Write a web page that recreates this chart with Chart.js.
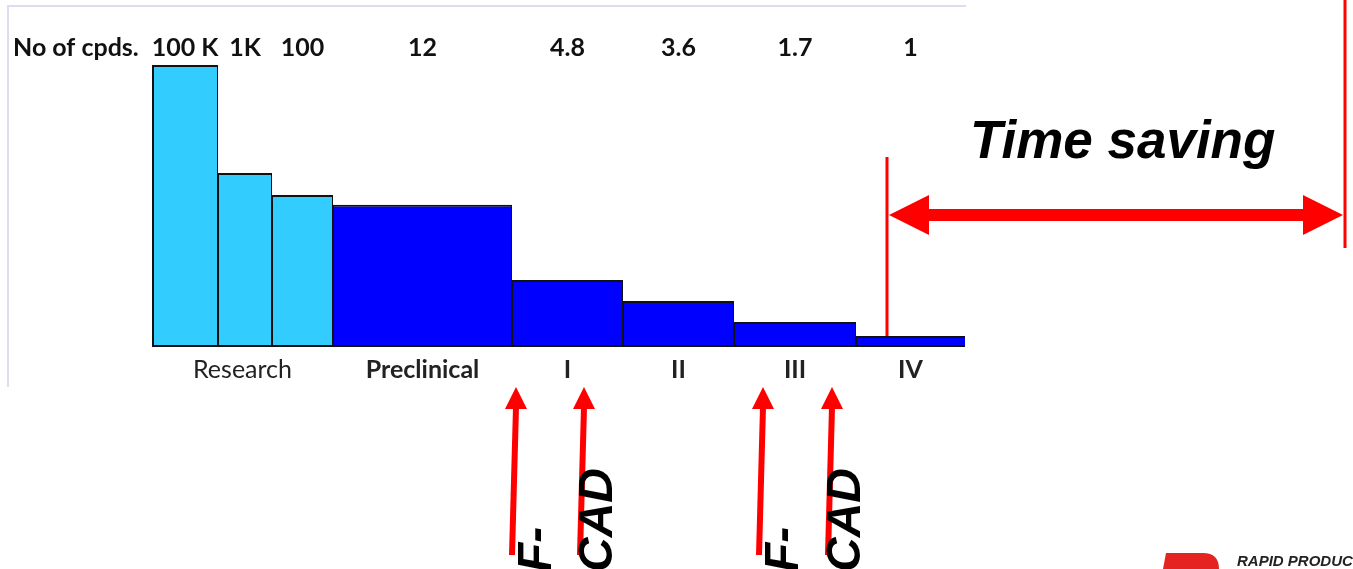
<!DOCTYPE html>
<html>
<head>
<meta charset="utf-8">
<script src="https://cdn.jsdelivr.net/npm/chart.js@4.4.1/dist/chart.umd.min.js"></script>
<style>
  html, body { margin: 0; padding: 0; background: #fff; overflow: hidden; }
  #wrap { width: 1353px; height: 569px; position: relative; }
</style>
</head>
<body>
<div id="wrap"><canvas id="chartFunnel"></canvas></div>
<script>
// ===== DATA =====
const compoundLabels = ['100 K', '1K', '100', '12', '4.8', '3.6', '1.7', '1'];
const stageLabels = ['Research', 'Preclinical', 'I', 'II', 'III', 'IV'];
const stageOfBar = [0, 0, 0, 1, 2, 3, 4, 5];
const phaseWidths = [6.6, 5.4, 6.1, 17.9, 11.1, 11.1, 12.2, 10.9];
const barHeights = [100, 61.7, 53.9, 50.4, 23.8, 16.3, 8.9, 3.9];

// annotation anchors, in x-axis units
const timeSavingFrom = 73.5;
const timeSavingTo = 119.3;
const cadArrows = [36.4, 43.2, 61.1, 68.0];
const cadTexts = ['F-', 'CAD', 'F-', 'CAD'];

// Colors
const RESEARCH_COLOR = '#33CCFF';
const PHASE_COLOR = '#0000FF';
const EDGE_COLOR = '#111111';
const RED = '#FF0000';
const LABEL_FONT = 'Lato, "Open Sans", sans-serif';

// cumulative starts of each bar
const barStarts = [];
phaseWidths.reduce((acc, w, i) => { barStarts[i] = acc; return acc + w; }, 0);
const totalWidth = phaseWidths.reduce((a, b) => a + b, 0);

// resize bars to their own width on the x scale
const variableWidth = {
  id: 'variableWidth',
  afterDatasetsUpdate(chart) {
    const xs = chart.scales.x;
    chart.getDatasetMeta(0).data.forEach((el, i) => {
      const x0 = xs.getPixelForValue(barStarts[i]);
      const x1 = xs.getPixelForValue(barStarts[i] + phaseWidths[i]);
      el.x = (x0 + x1) / 2;
      el.width = x1 - x0;
    });
  }
};

function arrowUp(ctx, tipX, tipY, tailX, tailY) {
  ctx.strokeStyle = RED;
  ctx.lineWidth = 6;
  ctx.beginPath();
  ctx.moveTo(tailX, tailY);
  ctx.lineTo(tipX, tipY + 20);
  ctx.stroke();
  ctx.fillStyle = RED;
  ctx.beginPath();
  ctx.moveTo(tipX, tipY);
  ctx.lineTo(tipX - 11, tipY + 22);
  ctx.lineTo(tipX + 11, tipY + 22);
  ctx.closePath();
  ctx.fill();
}

const decorations = {
  id: 'decorations',
  beforeDraw(chart) {
    const { ctx, chartArea } = chart;
    ctx.save();
    ctx.strokeStyle = '#dadef0';
    ctx.lineWidth = 2;
    ctx.beginPath();
    ctx.moveTo(8, chartArea.bottom + 40);
    ctx.lineTo(8, 6);
    ctx.lineTo(chartArea.right + 1, 6);
    ctx.stroke();
    ctx.restore();
  },
  afterDraw(chart) {
    const { ctx, chartArea } = chart;
    const xs = chart.scales.x;
    const ys = chart.scales.y;
    ctx.save();

    // compound counts above bars
    ctx.fillStyle = '#111';
    ctx.textBaseline = 'alphabetic';
    ctx.font = 'bold 25px ' + LABEL_FONT;
    ctx.textAlign = 'left';
    ctx.fillText('No of cpds.', 13, chartArea.top - 9);
    ctx.textAlign = 'center';
    compoundLabels.forEach((lbl, i) => {
      const cx = xs.getPixelForValue(barStarts[i] + phaseWidths[i] / 2);
      ctx.fillText(lbl, cx, chartArea.top - 9);
    });

    // stage labels under the bars
    stageLabels.forEach((lbl, s) => {
      const idx = stageOfBar.map((v, i) => v === s ? i : -1).filter(i => i >= 0);
      const from = barStarts[idx[0]];
      const to = barStarts[idx[idx.length - 1]] + phaseWidths[idx[idx.length - 1]];
      ctx.font = (s === 0 ? '' : 'bold ') + '25px ' + LABEL_FONT;
      ctx.fillStyle = '#222';
      ctx.fillText(lbl, xs.getPixelForValue((from + to) / 2), chartArea.bottom + 31);
    });

    // time saving span
    const tx0 = xs.getPixelForValue(timeSavingFrom);
    const tx1 = xs.getPixelForValue(timeSavingTo);
    const lastTop = ys.getPixelForValue(barHeights[barHeights.length - 1]);
    ctx.strokeStyle = RED;
    ctx.lineWidth = 3;
    ctx.beginPath();
    ctx.moveTo(tx0, 157);
    ctx.lineTo(tx0, lastTop);
    ctx.moveTo(tx1, 0);
    ctx.lineTo(tx1, 248);
    ctx.stroke();

    const ay = 215;
    const l = tx0 + 2, r = tx1 - 2;
    ctx.fillStyle = RED;
    ctx.beginPath();
    ctx.moveTo(l, ay);
    ctx.lineTo(l + 40, ay - 20);
    ctx.lineTo(l + 40, ay - 6);
    ctx.lineTo(r - 40, ay - 6);
    ctx.lineTo(r - 40, ay - 20);
    ctx.lineTo(r, ay);
    ctx.lineTo(r - 40, ay + 20);
    ctx.lineTo(r - 40, ay + 6);
    ctx.lineTo(l + 40, ay + 6);
    ctx.lineTo(l + 40, ay + 20);
    ctx.closePath();
    ctx.fill();

    ctx.fillStyle = '#000';
    ctx.textAlign = 'left';
    ctx.font = 'italic bold 53px "Liberation Sans", Arial, sans-serif';
    ctx.fillText('Time saving', 970, 158);

    // F-CAD arrows
    cadArrows.forEach((v, i) => {
      const tip = xs.getPixelForValue(v);
      arrowUp(ctx, tip, chartArea.bottom + 40, tip - 4, 555);
      ctx.save();
      ctx.translate(tip + (i % 2 === 0 ? 35 : 28), 572);
      ctx.rotate(-Math.PI / 2);
      ctx.fillStyle = '#000';
      ctx.font = 'italic bold 48px "Liberation Sans", Arial, sans-serif';
      ctx.textAlign = 'left';
      ctx.fillText(cadTexts[i], 0, 0);
      ctx.restore();
    });

    // logo fragment
    ctx.fillStyle = '#E52421';
    ctx.beginPath();
    ctx.moveTo(1163, 569);
    ctx.lineTo(1166, 553);
    ctx.lineTo(1203, 553);
    ctx.quadraticCurveTo(1219, 553, 1219, 569);
    ctx.closePath();
    ctx.fill();
    ctx.fillStyle = '#222';
    ctx.font = 'italic bold 15px "Liberation Sans", Arial, sans-serif';
    ctx.fillText('RAPID PRODUCTS', 1237, 566);

    ctx.restore();
  }
};

const lastBar = barHeights.length - 1;

new Chart(document.getElementById('chartFunnel'), {
  type: 'bar',
  data: {
    datasets: [{
      data: barHeights.map((h, i) => ({ x: barStarts[i] + phaseWidths[i] / 2, y: h })),
      backgroundColor: ctx => stageOfBar[ctx.dataIndex] === 0 ? RESEARCH_COLOR : PHASE_COLOR,
      borderColor: EDGE_COLOR,
      borderSkipped: false,
      borderWidth: ctx => ({
        top: 2,
        bottom: 2,
        left: ctx.dataIndex === 0 ? 2 : 1,
        right: ctx.dataIndex === lastBar ? 0 : 1
      })
    }]
  },
  options: {
    responsive: true,
    maintainAspectRatio: false,
    animation: false,
    layout: { padding: { left: 152, right: 388, top: 65, bottom: 222 } },
    plugins: { legend: { display: false }, tooltip: { enabled: false } },
    scales: {
      x: { type: 'linear', display: false, offset: false, min: 0, max: totalWidth },
      y: { display: false, min: 0, max: 100 }
    }
  },
  plugins: [variableWidth, decorations]
});
</script>
</body>
</html>
